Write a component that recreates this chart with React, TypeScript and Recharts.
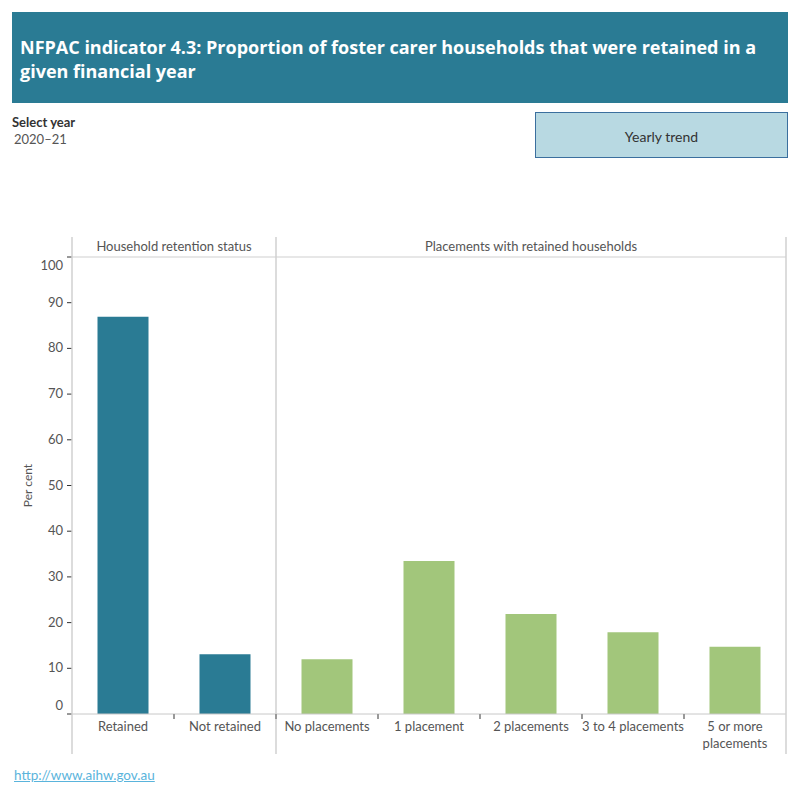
import { BarChart, Bar, XAxis, YAxis, Cell } from 'recharts';

// Household retention status panel
const retentionCategories = ['Retained', 'Not retained'];
const retentionValues = [86.9, 13.1];

// Placements with retained households panel
const placementCategories = ['No placements', '1 placement', '2 placements', '3 to 4 placements', '5 or more placements'];
const placementValues = [12.0, 33.5, 21.9, 17.9, 14.7];

const yTicks = [0, 10, 20, 30, 40, 50, 60, 70, 80, 90, 100];

const panelHeaders = ['Household retention status', 'Placements with retained households'];

const TEAL = '#2a7b94';
const GREEN = '#a2c67b';
const FONT = 'Lato, "Open Sans", sans-serif';
const FS = 13;

const data = [
  ...retentionCategories.map((name, i) => ({ name, value: retentionValues[i], panel: 0 })),
  ...placementCategories.map((name, i) => ({ name, value: placementValues[i], panel: 1 })),
];

// plot geometry
const W = 800;
const H = 800;
const PLOT_LEFT = 72;
const PLOT_RIGHT = 786;
const PLOT_TOP = 257;
const PLOT_BOTTOM = 714;
const HEADER_TOP = 237;
const FRAME_BOTTOM = 754;
const Y_AXIS_W = 60;
const X_AXIS_H = 40;

const band = (PLOT_RIGHT - PLOT_LEFT) / data.length;
const splitX = PLOT_LEFT + retentionCategories.length * band;

const wrap = (s: string, max = 17) => {
  const lines: string[] = [];
  let cur = '';
  s.split(' ').forEach((w) => {
    const next = cur ? cur + ' ' + w : w;
    if (next.length > max && cur) {
      lines.push(cur);
      cur = w;
    } else cur = next;
  });
  if (cur) lines.push(cur);
  return lines;
};

const XTick = ({ x, y, payload }: any) => (
  <text x={x} y={y + 9} textAnchor="middle" fill="#555" fontSize={FS} fontFamily={FONT}>
    {wrap(payload.value).map((l, i) => (
      <tspan key={i} x={x} dy={i === 0 ? 0 : 17}>
        {l}
      </tspan>
    ))}
  </text>
);

// end labels sit inside the plot range
const YTick = ({ x, y, payload }: any) => {
  const shift = payload.value === 100 ? 9 : payload.value === 0 ? -8 : 0;
  return (
    <text x={x - 2} y={y + shift} dy={4} textAnchor="end" fill="#555" fontSize={FS} fontFamily={FONT}>
      {payload.value}
    </text>
  );
};

export default function App() {
  return (
    <div style={{ position: 'absolute', left: 0, top: 0, width: W, height: H, background: '#fff', fontFamily: FONT }}>
      <div
        style={{
          position: 'absolute', left: 12, top: 12, width: 776, height: 91, background: '#2a7b94',
          color: '#fff', fontFamily: '"Open Sans", sans-serif', fontWeight: 700, fontSize: 18, lineHeight: '24px',
          boxSizing: 'border-box', padding: '23px 8px 0',
        }}
      >
        NFPAC indicator 4.3: Proportion of foster carer households that were retained in a<br />given financial year
      </div>
      <div style={{ position: 'absolute', left: 12, top: 114, fontSize: 13, fontWeight: 700, color: '#333' }}>Select year</div>
      <div style={{ position: 'absolute', left: 14, top: 131, fontSize: 13, color: '#555' }}>2020–21</div>
      <div
        style={{
          position: 'absolute', left: 535, top: 112, width: 253, height: 46, boxSizing: 'border-box',
          background: '#b8d9e2', border: '1px solid #3b6f9e', display: 'flex', alignItems: 'center',
          justifyContent: 'center', fontSize: 14, color: '#333', paddingTop: 2,
        }}
      >
        Yearly trend
      </div>

      <div style={{ position: 'absolute', left: 0, top: 0 }}>
        <BarChart
          width={W}
          height={H}
          data={data}
          margin={{ top: PLOT_TOP, right: W - PLOT_RIGHT, bottom: H - PLOT_BOTTOM - X_AXIS_H, left: PLOT_LEFT - Y_AXIS_W }}
          barCategoryGap="25%"
        >
          <XAxis
            dataKey="name"
            interval={0}
            height={X_AXIS_H}
            axisLine={{ stroke: '#c8c8c8' }}
            tickLine={false}
            tick={<XTick />}
          />
          <YAxis
            width={Y_AXIS_W}
            domain={[0, 100]}
            ticks={yTicks}
            interval={0}
            axisLine={false}
            tickLine={{ stroke: '#333' }}
            tickSize={5}
            tick={<YTick />}
            label={{ value: 'Per cent', angle: -90, position: 'insideLeft', dx: 11, style: { fill: '#555', fontSize: 12, fontFamily: FONT, textAnchor: 'middle' } }}
          />
          <Bar dataKey="value" isAnimationActive={false}>
            {data.map((d, i) => (
              <Cell key={i} fill={d.panel === 0 ? TEAL : GREEN} />
            ))}
          </Bar>
        </BarChart>
      </div>

      {/* panel frame, headers and band-edge ticks */}
      <svg width={W} height={H} style={{ position: 'absolute', left: 0, top: 0, pointerEvents: 'none' }}>
        {[PLOT_LEFT, splitX, PLOT_RIGHT].map((x) => (
          <line key={x} x1={x} x2={x} y1={HEADER_TOP} y2={FRAME_BOTTOM} stroke="#d0d0d0" strokeWidth={1.5} />
        ))}
        <line x1={PLOT_LEFT} x2={PLOT_RIGHT} y1={PLOT_TOP} y2={PLOT_TOP} stroke="#cfcfcf" />
        {data.slice(1).map((_, i) => {
          const x = PLOT_LEFT + (i + 1) * band;
          return <line key={i} x1={x} x2={x} y1={PLOT_BOTTOM} y2={PLOT_BOTTOM + 5} stroke="#999" strokeWidth={2} />;
        })}
        <text x={(PLOT_LEFT + splitX) / 2} y={PLOT_TOP - 6} textAnchor="middle" fill="#555" fontSize={FS} fontFamily={FONT}>
          {panelHeaders[0]}
        </text>
        <text x={(splitX + PLOT_RIGHT) / 2} y={PLOT_TOP - 6} textAnchor="middle" fill="#555" fontSize={FS} fontFamily={FONT}>
          {panelHeaders[1]}
        </text>
      </svg>

      <a
        href="http://www.aihw.gov.au"
        style={{ position: 'absolute', left: 14, top: 767, fontSize: 13.5, color: '#5ab4dc', textDecoration: 'underline' }}
      >
        http://www.aihw.gov.au
      </a>
    </div>
  );
}
